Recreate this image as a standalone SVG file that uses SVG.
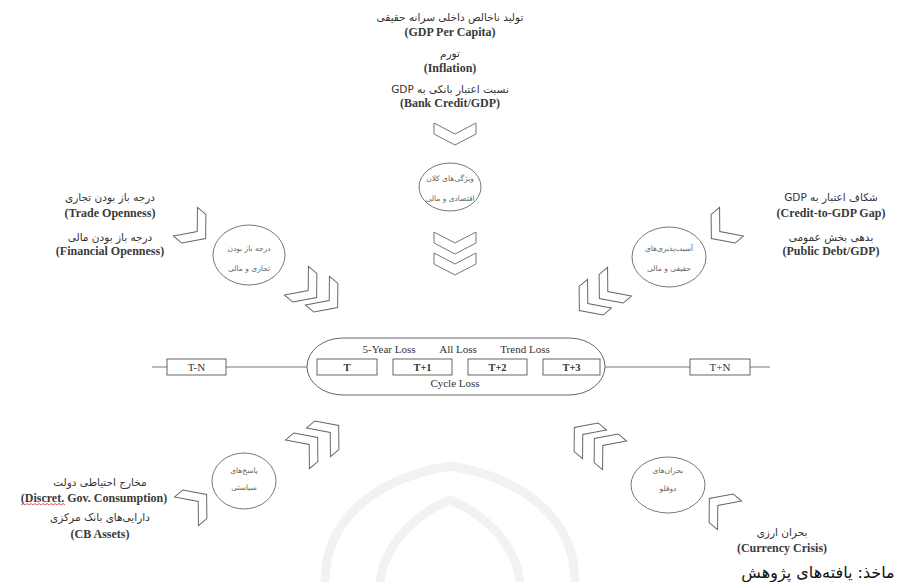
<svg xmlns="http://www.w3.org/2000/svg" xmlns:xlink="http://www.w3.org/1999/xlink" width="905" height="582" viewBox="0 0 905 582">
<style>
.ln{stroke:#666;stroke-width:0.9;fill:none}
.box{fill:#fff;stroke:#555;stroke-width:0.9}
.chev{fill:#fff;stroke:#666;stroke-width:0.9;stroke-linejoin:miter}
.circ{fill:#fff;stroke:#666;stroke-width:0.9}
.fa{font-family:"DejaVu Sans",sans-serif;font-size:10.5px;fill:#333;direction:rtl;unicode-bidi:embed;text-anchor:middle}
.en{font-family:"Liberation Serif",serif;font-size:12px;font-weight:bold;fill:#3a3a3a;text-anchor:middle}
.sm{font-family:"DejaVu Sans",sans-serif;font-size:7.5px;fill:#666;direction:rtl;unicode-bidi:embed;text-anchor:middle}
.tl{font-family:"Liberation Serif",serif;font-size:11px;fill:#333;text-anchor:middle}
.tb{font-family:"Liberation Serif",serif;font-size:10.5px;font-weight:bold;fill:#333;text-anchor:middle}
.wm{fill:none;stroke:#f2f2f2;stroke-width:9}
</style>
<defs>
<path id="chevS" class="chev" d="M-9,-17 L1,-17 L15,0 L1,17 L-9,17 L5,0 Z"/>
<path id="chevD" class="chev" d="M-21,-11 L0,0 L21,-11 L21,0 L0,11 L-21,0 Z"/>
</defs>
<rect width="905" height="582" fill="#fff"/>
<g id="watermark">
<path class="wm" d="M325 582 C325 520 375 478 450 466 C525 478 575 520 575 582"/>
<path class="wm" d="M380 582 C385 540 420 512 450 500 C480 512 515 540 520 582"/>
</g>
<g id="connectors">
<line class="ln" x1="152" y1="367" x2="307" y2="367"/>
<line class="ln" x1="605" y1="367" x2="770" y2="367"/>
<line class="ln" x1="377" y1="367" x2="393" y2="367"/>
<line class="ln" x1="452" y1="367" x2="468" y2="367"/>
<line class="ln" x1="527" y1="367" x2="543" y2="367"/>
</g>
<g id="top-indicators">
<text class="fa" x="450" y="21">تولید ناخالص داخلی سرانه حقیقی</text>
<text class="en" x="450" y="36">(GDP Per Capita)</text>
<text class="fa" x="450" y="57">تورم</text>
<text class="en" x="450" y="72">(Inflation)</text>
<text class="fa" x="450" y="93">نسبت اعتبار بانکی به GDP</text>
<text class="en" x="450" y="107">(Bank Credit/GDP)</text>
<use xlink:href="#chevD" transform="translate(455,134)"/>
</g>
<g id="node-macro">
<ellipse class="circ" cx="450" cy="187" rx="31" ry="24"/>
<text class="sm" x="450" y="181">ویژگی‌های کلان</text>
<text class="sm" x="450" y="201">اقتصادی و مالی</text>
<use xlink:href="#chevD" transform="translate(455,243)"/>
<use xlink:href="#chevD" transform="translate(455,264)"/>
</g>
<g id="left-indicators">
<text class="fa" x="110" y="201">درجه باز بودن تجاری</text>
<text class="en" x="110" y="217">(Trade Openness)</text>
<text class="fa" x="110" y="241">درجه باز بودن مالی</text>
<text class="en" x="110" y="255">(Financial Openness)</text>
<use xlink:href="#chevS" transform="translate(193,228) rotate(40) scale(1.1)"/>
</g>
<g id="node-openness">
<ellipse class="circ" cx="249" cy="255" rx="36" ry="30"/>
<text class="sm" x="249" y="251">درجه باز بودن</text>
<text class="sm" x="249" y="271">تجاری و مالی</text>
<use xlink:href="#chevS" transform="translate(304,287) rotate(40) scale(1.1)"/>
<use xlink:href="#chevS" transform="translate(325,297) rotate(40) scale(1.1)"/>
</g>
<g id="right-indicators">
<text class="fa" x="831" y="201">شکاف اعتبار به GDP</text>
<text class="en" x="831" y="217">(Credit-to-GDP Gap)</text>
<text class="fa" x="831" y="241">بدهی بخش عمومی</text>
<text class="en" x="831" y="255">(Public Debt/GDP)</text>
<use xlink:href="#chevS" transform="translate(724,228) rotate(140) scale(1.1)"/>
</g>
<g id="node-vulnerability">
<ellipse class="circ" cx="669" cy="257" rx="37" ry="30"/>
<text class="sm" x="669" y="251">آسیب‌پذیری‌های</text>
<text class="sm" x="669" y="271">حقیقی و مالی</text>
<use xlink:href="#chevS" transform="translate(612,288) rotate(140) scale(1.1)"/>
<use xlink:href="#chevS" transform="translate(592,300) rotate(140) scale(1.1)"/>
</g>
<g id="node-timeline">
<rect class="box" x="307" y="338" width="298" height="57" rx="36" ry="28.5"/>
<text class="tl" x="389" y="353">5-Year Loss</text>
<text class="tl" x="458" y="353">All Loss</text>
<text class="tl" x="525" y="353">Trend Loss</text>
<text class="tl" x="455" y="387">Cycle Loss</text>
<rect class="box" x="317" y="359" width="60" height="16"/>
<text class="tb" x="347" y="371">T</text>
<rect class="box" x="393" y="359" width="59" height="16"/>
<text class="tb" x="422.5" y="371">T+1</text>
<rect class="box" x="468" y="359" width="59" height="16"/>
<text class="tb" x="497.5" y="371">T+2</text>
<rect class="box" x="543" y="359" width="57" height="16"/>
<text class="tb" x="571.5" y="371">T+3</text>
</g>
<g id="node-tn">
<rect class="box" x="167" y="359" width="59" height="16"/>
<text class="tl" x="196.5" y="371">T-N</text>
</g>
<g id="node-tpn">
<rect class="box" x="690" y="359" width="60" height="16"/>
<text class="tl" x="720" y="371">T+N</text>
</g>
<g id="bottom-left-indicators">
<text class="fa" x="100" y="486">مخارج احتیاطی دولت</text>
<text class="en" x="94" y="502">(Discret. Gov. Consumption)</text>
<path d="M21 505 l2 -1.5 l2 1.5 l2 -1.5 l2 1.5 l2 -1.5 l2 1.5 l2 -1.5 l2 1.5 l2 -1.5 l2 1.5 l2 -1.5 l2 1.5 l2 -1.5 l2 1.5 l2 -1.5 l2 1.5 l2 -1.5 l2 1.5 l2 -1.5 l2 1.5 l2 -1.5 l2 1.5" fill="none" stroke="#d33" stroke-width="0.8"/>
<text class="fa" x="100" y="521">دارایی‌های بانک مرکزی</text>
<text class="en" x="100" y="538">(CB Assets)</text>
<use xlink:href="#chevS" transform="translate(194,505) rotate(-40) scale(1.1)"/>
</g>
<g id="node-policy">
<ellipse class="circ" cx="244" cy="481" rx="32" ry="28"/>
<text class="sm" x="244" y="473">پاسخ‌های</text>
<text class="sm" x="244" y="490">سیاستی</text>
<use xlink:href="#chevS" transform="translate(305,448) rotate(-40) scale(1.1)"/>
<use xlink:href="#chevS" transform="translate(326,436) rotate(-40) scale(1.1)"/>
</g>
<g id="bottom-right-indicators">
<text class="fa" x="782" y="536">بحران ارزی</text>
<text class="en" x="782" y="552">(Currency Crisis)</text>
<use xlink:href="#chevS" transform="translate(722,509) rotate(-140) scale(1.1)"/>
</g>
<g id="node-twin">
<ellipse class="circ" cx="668" cy="485" rx="37" ry="28"/>
<text class="sm" x="668" y="473">بحران‌های</text>
<text class="sm" x="668" y="491">دوقلو</text>
<use xlink:href="#chevS" transform="translate(587,438) rotate(-140) scale(1.1)"/>
<use xlink:href="#chevS" transform="translate(607,449) rotate(-140) scale(1.1)"/>
</g>
<g id="source">
<text x="818" y="578" style="font-family:'DejaVu Sans',sans-serif;font-size:16px;fill:#111;direction:rtl;unicode-bidi:embed;text-anchor:middle">ماخذ: یافته‌های پژوهش</text>
</g>
</svg>
